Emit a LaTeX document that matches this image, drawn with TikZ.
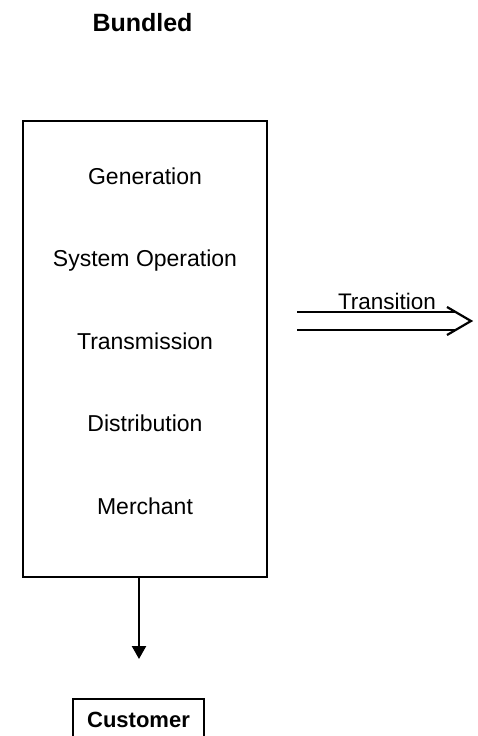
\documentclass[tikz,border=0pt]{standalone}
\usepackage{fontspec}
\setmainfont{Liberation Sans}
\usetikzlibrary{arrows.meta,calc}

\tikzset{
  frame/.style={draw, line width=2.2pt, inner sep=0pt},
  layer/.style={anchor=base, inner sep=0pt, font=\fontsize{23}{27}\selectfont},
  heading/.style={anchor=base, inner sep=0pt, font=\fontsize{25}{30}\selectfont\bfseries},
  flow/.style={line width=2.3pt, -{Triangle[width=14pt,length=13pt]}},
  hollowarrow/.style={line width=2.2pt, line join=miter},
}

\begin{document}
\begin{tikzpicture}[x=1pt, y=-1pt]
  \useasboundingbox (0,0) rectangle (478,736);
  \clip (0,0) rectangle (478,736);

  % title
  \node[heading] (title) at (142.5,31) {Bundled};

  % the vertically integrated utility and its functions
  \node[frame, minimum width=244pt, minimum height=456pt] (bundle) at (145,349) {};
  \node[layer] (gen)  at (145,184)   {Generation};
  \node[layer] (sysop) at (145,266.5) {System Operation};
  \node[layer] (trans) at (145,349)   {Transmission};
  \node[layer] (dist) at (145,431.5) {Distribution};
  \node[layer] (merch) at (145,514)   {Merchant};

  % customer served by the utility
  \node[frame, anchor=north, minimum width=131pt, minimum height=48pt,
        text height=16pt, text depth=7pt,
        font=\fontsize{22}{26}\selectfont\bfseries] (customer) at (138.5,698) {Customer};
  \coordinate (supply) at (139,659);
  \draw[flow] (bundle.south -| supply) -- (supply);

  % hollow double arrow towards the unbundled structure
  \coordinate (tr-start) at (297,321);
  \coordinate (tr-tip) at (471,321);
  \draw[hollowarrow] ($(tr-start)+(0,-9)$) -- ($(tr-tip)+(-15.4,-9)$);
  \draw[hollowarrow] ($(tr-start)+(0,9)$) -- ($(tr-tip)+(-15.4,9)$);
  \draw[hollowarrow] ($(tr-tip)+(-24,-14)$) -- (tr-tip) -- ($(tr-tip)+(-24,14)$);
  \node[anchor=base, inner sep=0pt, font=\fontsize{22.5}{27}\selectfont] (trlabel) at (387,309.5) {Transition};
\end{tikzpicture}
\end{document}
